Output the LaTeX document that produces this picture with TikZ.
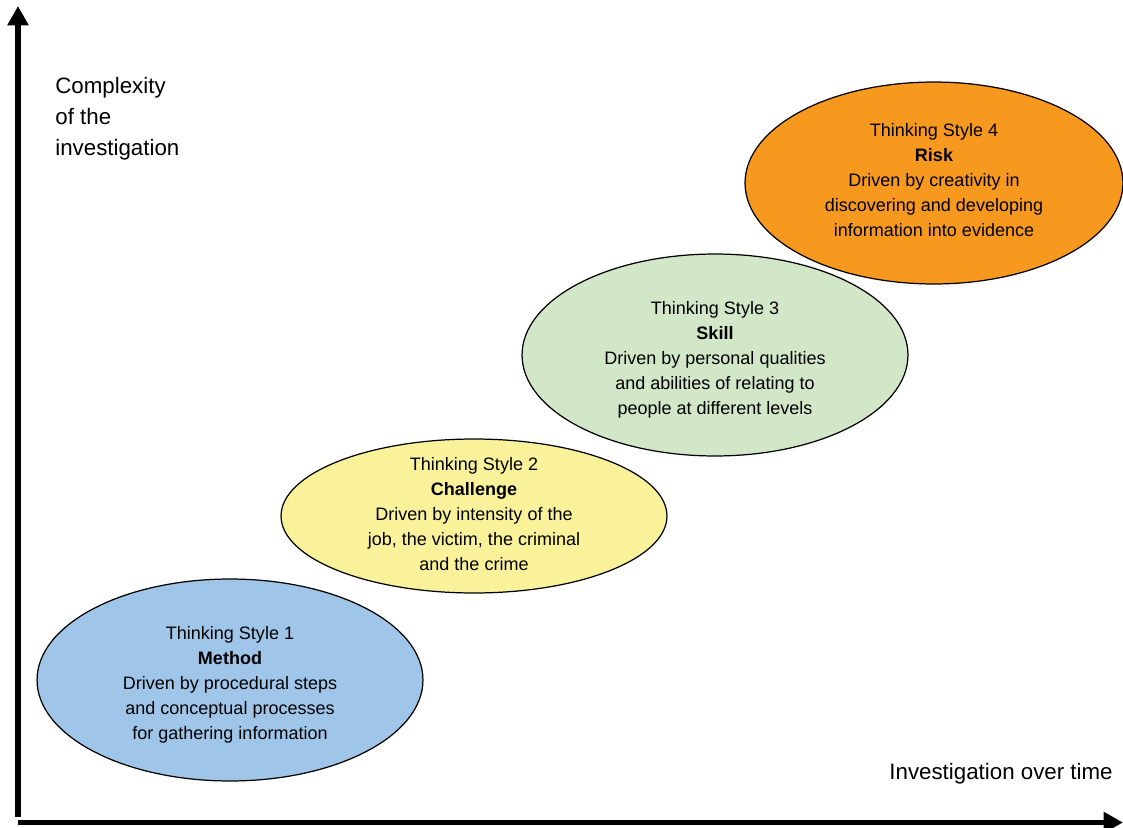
\documentclass[tikz,border=0pt]{standalone}
\usepackage{fontspec}
\setmainfont{Liberation Sans}
\usepackage{xcolor}
\usepackage{tikz}
\usetikzlibrary{
  arrows.meta,
  positioning,
  shapes.geometric
}
\definecolor{StyleBlue}{HTML}{9FC6E9}
\definecolor{StyleYellow}{HTML}{FAF29B}
\definecolor{StyleGreen}{HTML}{D2E7C8}
\definecolor{StyleOrange}{HTML}{F7991F}
\tikzset{
  stage/.style={
    ellipse,
    draw=black,
    line width=0.7pt,
    inner sep=0pt,
    minimum width=7.72cm,
    minimum height=4.04cm
  },
  stagetext/.style={
    align=center,
    inner sep=0pt,
    font=\fontsize{10.25}{14.2}\selectfont
  },
  axis/.style={
    line width=3.4pt,
    -{Triangle[length=11pt,width=11.5pt]}
  },
  axislabel/.style={
    inner sep=0pt,
    font=\fontsize{12.7}{17.6}\selectfont
  }
}

\begin{document}
\begin{tikzpicture}[x=0.02cm,y=-0.02cm]

  \useasboundingbox (0,0) rectangle (1123,828);

  \coordinate (ybottom) at (18,817);
  \coordinate (ytop) at (18,6);
  \coordinate (xleft) at (18,822.5);
  \coordinate (xright) at (1123,822.5);

  \draw[axis] (ybottom) -- (ytop);
  \draw[axis] (xleft) -- (xright);

  \node[
    axislabel,
    anchor=west,
    align=left
  ] at (55,119) (complexity) {
    Complexity\\of the\\investigation
  };

  \node[
    axislabel,
    anchor=east
  ] at (1113,774) (time) {
    Investigation over time
  };

  % the four thinking styles
  \node[
    stage,
    fill=StyleBlue
  ] at (230,680) (method) {};

  \node[
    stage,
    fill=StyleYellow,
    minimum height=3.08cm
  ] at (474,516) (challenge) {};

  \node[
    stage,
    fill=StyleGreen
  ] at (715,355) (skill) {};

  \node[
    stage,
    fill=StyleOrange,
    minimum width=7.56cm
  ] at (934,183) (risk) {};

  \node[stagetext] at ([yshift=-0.1cm]method.center) (methodtext) {
    Thinking Style 1\\
    \textbf{Method}\\
    Driven by procedural steps\\
    and conceptual processes\\
    for gathering information
  };

  \node[stagetext] at ([yshift=0.04cm]challenge.center) (challengetext) {
    Thinking Style 2\\
    \textbf{Challenge}\\
    Driven by intensity of the\\
    job, the victim, the criminal\\
    and the crime
  };

  \node[stagetext] at ([yshift=-0.1cm]skill.center) (skilltext) {
    Thinking Style 3\\
    \textbf{Skill}\\
    Driven by personal qualities\\
    and abilities of relating to\\
    people at different levels
  };

  \node[stagetext] at ([yshift=0.06cm]risk.center) (risktext) {
    Thinking Style 4\\
    \textbf{Risk}\\
    Driven by creativity in\\
    discovering and developing\\
    information into evidence
  };

\end{tikzpicture}
\end{document}
